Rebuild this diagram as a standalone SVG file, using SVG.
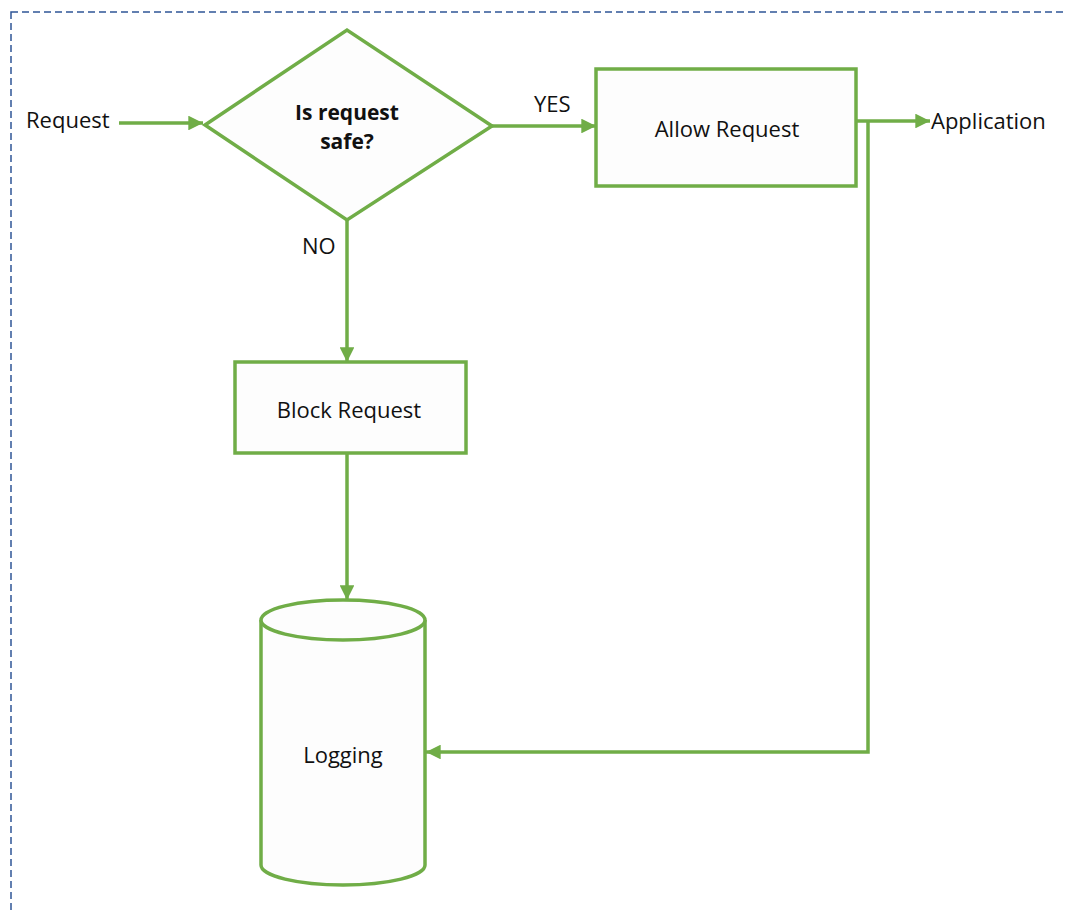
<svg xmlns="http://www.w3.org/2000/svg" width="1065" height="910" viewBox="0 0 1065 910">
<defs>
<style>
.shape{fill:#fdfdfd;stroke:#70ad47;stroke-width:3.5}
.conn{fill:none;stroke:#70ad47;stroke-width:3.5}
text{font-family:"Open Sans","Noto Sans","Liberation Sans",sans-serif;font-size:22px;fill:#111}
.b{font-weight:bold;font-size:21px}
</style>
<marker id="arr" viewBox="0 0 10 10" refX="10" refY="5" markerWidth="4.2" markerHeight="4.2" orient="auto" markerUnits="strokeWidth">
<path d="M0,0 L10,5 L0,10 Z" fill="#70ad47"/>
</marker>
</defs>
<rect x="0" y="0" width="1065" height="910" fill="#ffffff"/>
<rect id="frame" x="11" y="12" width="1080" height="920" fill="none" stroke="#2f5597" stroke-width="1.5" stroke-dasharray="7,4"/>
<g id="connectors">
<line class="conn" x1="119" y1="123" x2="203" y2="123" marker-end="url(#arr)"/>
<line class="conn" x1="492" y1="126" x2="596" y2="126" marker-end="url(#arr)"/>
<line class="conn" x1="347" y1="220" x2="347" y2="362" marker-end="url(#arr)"/>
<line class="conn" x1="347" y1="453" x2="347" y2="600" marker-end="url(#arr)"/>
<line class="conn" x1="856" y1="121" x2="930" y2="121" marker-end="url(#arr)"/>
<polyline class="conn" points="868,121 868,752 426,752" marker-end="url(#arr)"/>
</g>
<g id="request-label"><text x="26" y="128">Request</text></g>
<g id="decision">
<polygon class="shape" points="205,125 347,30 492,126 347,220"/>
<text class="b" x="347" y="120" text-anchor="middle">Is request</text>
<text class="b" x="347" y="149" text-anchor="middle">safe?</text>
</g>
<g id="yes-label"><text x="534" y="112">YES</text></g>
<g id="no-label"><text x="302" y="254">NO</text></g>
<g id="allow">
<rect class="shape" x="596" y="69" width="260" height="117"/>
<text x="727" y="137" text-anchor="middle">Allow Request</text>
</g>
<g id="application-label"><text x="931" y="129">Application</text></g>
<g id="block">
<rect class="shape" x="235" y="362" width="231" height="91"/>
<text x="349" y="418" text-anchor="middle">Block Request</text>
</g>
<g id="logging">
<path class="shape" d="M261,620 L261,865 A82,20 0 0 0 425,865 L425,620 A82,20 0 0 0 261,620 Z"/>
<path class="shape" d="M261,620 A82,20 0 0 0 425,620" fill="none"/>
<text x="343" y="763" text-anchor="middle">Logging</text>
</g>
</svg>
